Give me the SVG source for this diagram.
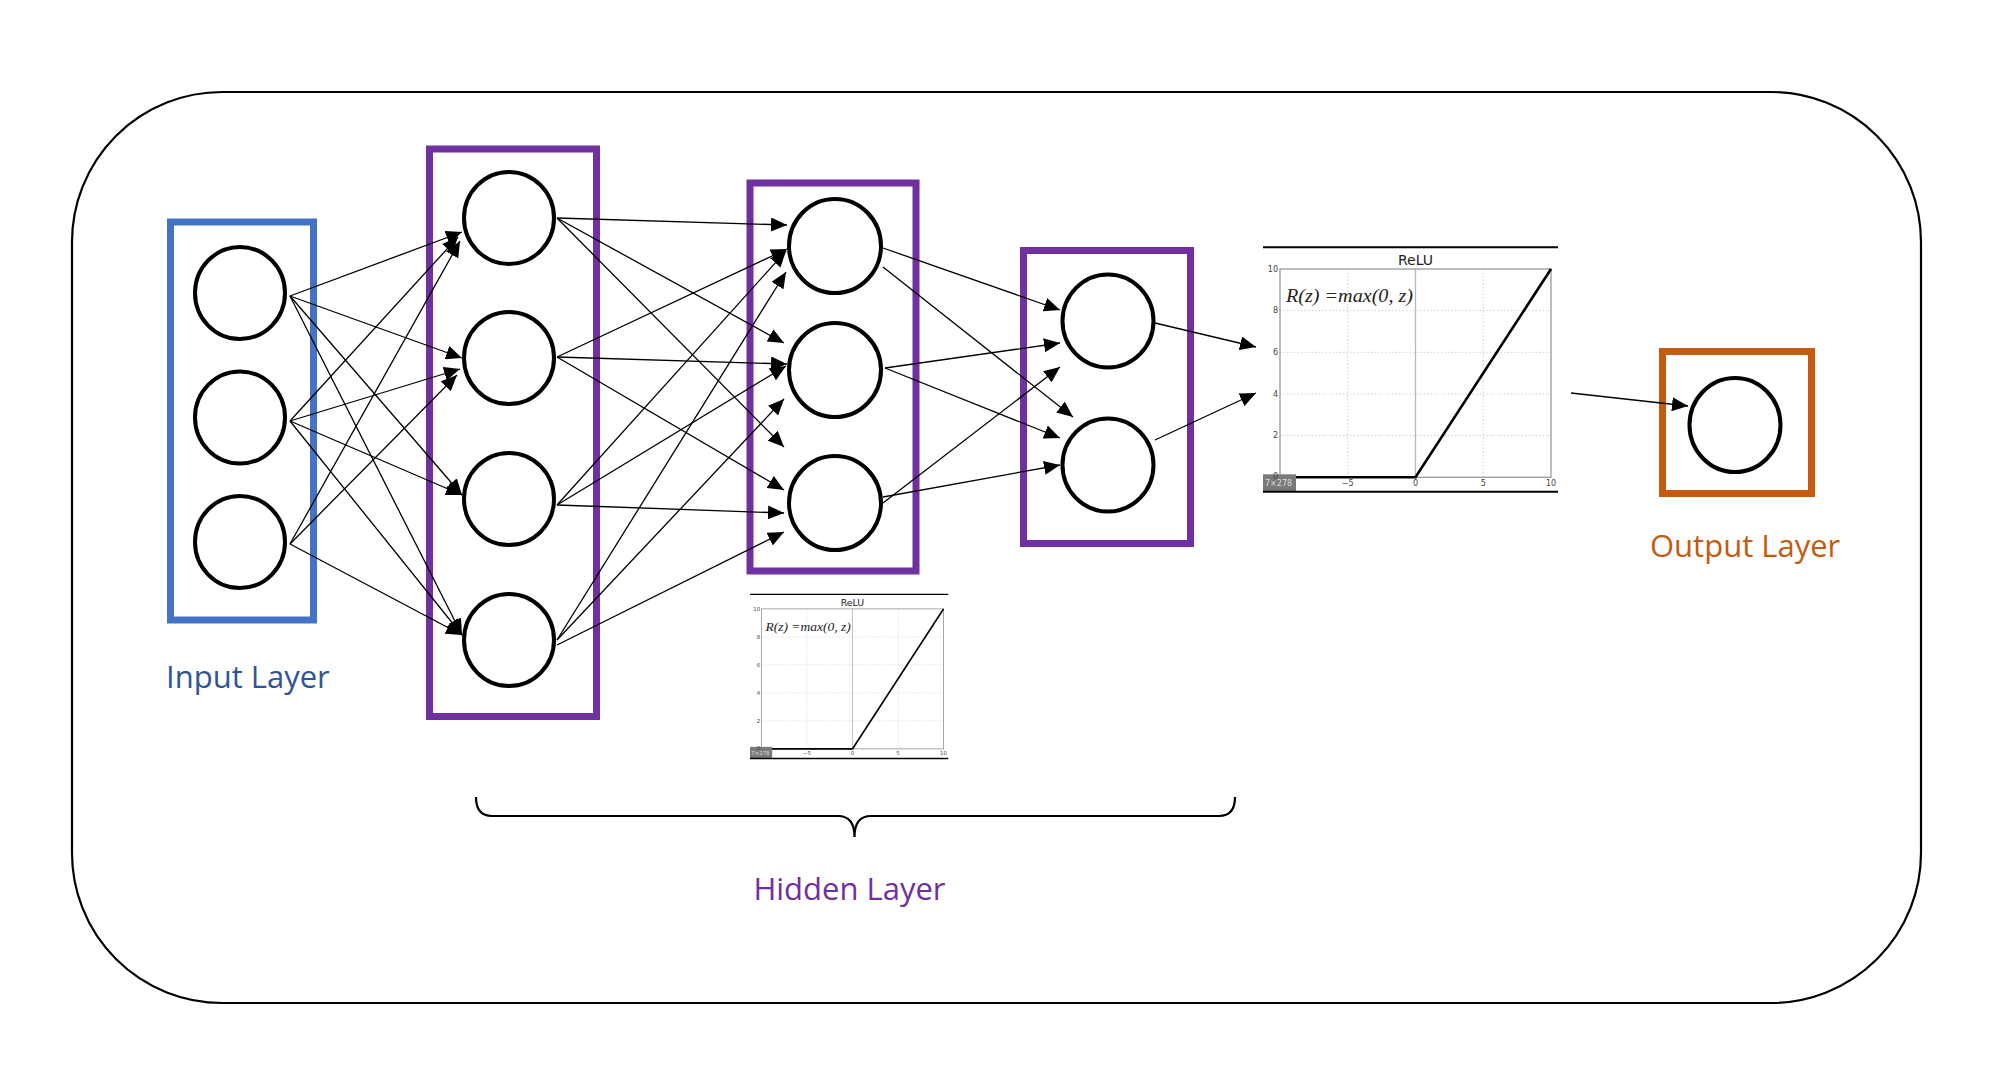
<svg xmlns="http://www.w3.org/2000/svg" width="2000" height="1085" viewBox="0 0 2000 1085">
<defs>
<style>
.node{fill:#fff;stroke:#000;stroke-width:4}
.edge{fill:none;stroke:#000;stroke-width:1.3;marker-end:url(#ah)}
.lbl{font-family:"Open Sans","Noto Sans","Liberation Sans",sans-serif;font-size:31px}
.tick{font-family:"DejaVu Sans","Liberation Sans",sans-serif;font-size:8px;fill:#444}
.grid{stroke:#cfcfcf;stroke-width:1;stroke-dasharray:1.5 2}
</style>
<marker id="ah" markerUnits="userSpaceOnUse" markerWidth="16" markerHeight="14" refX="16" refY="7" orient="auto">
<path d="M0,0 L16,7 L0,14 Z" fill="#000"/>
</marker>
</defs>
<rect width="2000" height="1085" fill="#fff"/>
<rect id="frame" x="72" y="92" width="1849" height="911" rx="150" ry="150" fill="none" stroke="#000" stroke-width="2.2"/>

<g id="layer-boxes" fill="none" stroke-width="7">
<rect id="input-box" x="170.5" y="222" width="143" height="398" stroke="#4472C4"/>
<rect id="hidden1-box" x="429.5" y="149" width="167" height="567.5" stroke="#7030A0"/>
<rect id="hidden2-box" x="750" y="183" width="166" height="388" stroke="#7030A0"/>
<rect id="hidden3-box" x="1023.5" y="250.5" width="167" height="293" stroke="#7030A0"/>
<rect id="output-box" x="1662.5" y="351.5" width="149" height="142" stroke="#C55A11"/>
</g>

<g id="connectors">
<line class="edge" x1="290" y1="296" x2="462" y2="232"/>
<line class="edge" x1="290" y1="296" x2="462" y2="358"/>
<line class="edge" x1="290" y1="296" x2="462" y2="495"/>
<line class="edge" x1="290" y1="296" x2="462" y2="635"/>
<line class="edge" x1="290" y1="421" x2="458" y2="237"/>
<line class="edge" x1="290" y1="421" x2="460" y2="369"/>
<line class="edge" x1="290" y1="421" x2="462" y2="495"/>
<line class="edge" x1="290" y1="421" x2="462" y2="635"/>
<line class="edge" x1="290" y1="544" x2="460" y2="241"/>
<line class="edge" x1="290" y1="544" x2="457" y2="375"/>
<line class="edge" x1="290" y1="544" x2="462" y2="635"/>

<line class="edge" x1="557" y1="218" x2="787" y2="225"/>
<line class="edge" x1="557" y1="218" x2="784" y2="343"/>
<line class="edge" x1="557" y1="218" x2="784" y2="447"/>
<line class="edge" x1="557" y1="357" x2="787" y2="249"/>
<line class="edge" x1="557" y1="357" x2="787" y2="364"/>
<line class="edge" x1="557" y1="357" x2="784" y2="490"/>
<line class="edge" x1="557" y1="505" x2="786" y2="251"/>
<line class="edge" x1="557" y1="505" x2="786" y2="366"/>
<line class="edge" x1="557" y1="505" x2="784" y2="513"/>
<line class="edge" x1="557" y1="640" x2="786" y2="272"/>
<line class="edge" x1="557" y1="640" x2="784" y2="399"/>
<line class="edge" x1="557" y1="645" x2="784" y2="532"/>

<line class="edge" x1="883" y1="248" x2="1060" y2="310"/>
<line class="edge" x1="883" y1="267" x2="1073" y2="417"/>
<line class="edge" x1="885" y1="368" x2="1060" y2="343"/>
<line class="edge" x1="885" y1="368" x2="1060" y2="438"/>
<line class="edge" x1="883" y1="503" x2="1060" y2="367"/>
<line class="edge" x1="883" y1="497" x2="1060" y2="465"/>

<line class="edge" x1="1155" y1="323" x2="1256" y2="347"/>
<line class="edge" x1="1155" y1="440" x2="1256" y2="393"/>

<line class="edge" x1="1571" y1="393" x2="1688" y2="406"/>
</g>

<g id="input-nodes">
<ellipse id="in1" class="node" cx="240" cy="293" rx="45" ry="46"/>
<ellipse id="in2" class="node" cx="240" cy="417.5" rx="45" ry="46"/>
<ellipse id="in3" class="node" cx="240" cy="542" rx="45" ry="46"/>
</g>
<g id="hidden1-nodes">
<ellipse id="h1n1" class="node" cx="509" cy="218" rx="45" ry="46"/>
<ellipse id="h1n2" class="node" cx="509" cy="358" rx="45" ry="46"/>
<ellipse id="h1n3" class="node" cx="509" cy="499" rx="45" ry="46"/>
<ellipse id="h1n4" class="node" cx="509" cy="640" rx="45" ry="46"/>
</g>
<g id="hidden2-nodes">
<ellipse id="h2n1" class="node" cx="835" cy="246" rx="46" ry="47"/>
<ellipse id="h2n2" class="node" cx="835" cy="370" rx="46" ry="47"/>
<ellipse id="h2n3" class="node" cx="835" cy="503" rx="46" ry="47"/>
</g>
<g id="hidden3-nodes">
<ellipse id="h3n1" class="node" cx="1108" cy="321" rx="45.5" ry="46.5"/>
<ellipse id="h3n2" class="node" cx="1108" cy="465" rx="45.5" ry="46.5"/>
</g>
<g id="output-node">
<ellipse id="out1" class="node" cx="1735" cy="425" rx="45.5" ry="47"/>
</g>

<g id="relu-large" transform="translate(1263,247.3)">
<line x1="0" y1="0" x2="295" y2="0" stroke="#000" stroke-width="2"/>
<text x="152.5" y="18" text-anchor="middle" font-family="DejaVu Sans,Liberation Sans,sans-serif" font-size="14" fill="#222">ReLU</text>
<line class="grid" x1="84.75" y1="21.7" x2="84.75" y2="230"/>
<line class="grid" x1="220.25" y1="21.7" x2="220.25" y2="230"/>
<line class="grid" x1="17" y1="63.4" x2="288" y2="63.4"/>
<line class="grid" x1="17" y1="105" x2="288" y2="105"/>
<line class="grid" x1="17" y1="146.7" x2="288" y2="146.7"/>
<line class="grid" x1="17" y1="188.3" x2="288" y2="188.3"/>
<line x1="152.5" y1="21.7" x2="152.5" y2="230" stroke="#b8b8b8" stroke-width="1.3"/>
<rect x="17" y="21.7" width="271" height="208.3" fill="none" stroke="#9a9a9a" stroke-width="1.3"/>
<text class="tick" x="15" y="24.5" text-anchor="end">10</text>
<text class="tick" x="15" y="66" text-anchor="end">8</text>
<text class="tick" x="15" y="108" text-anchor="end">6</text>
<text class="tick" x="15" y="149.5" text-anchor="end">4</text>
<text class="tick" x="15" y="191" text-anchor="end">2</text>
<text class="tick" x="84.75" y="239" text-anchor="middle">−5</text>
<text class="tick" x="152.5" y="239" text-anchor="middle">0</text>
<text class="tick" x="220.25" y="239" text-anchor="middle">5</text>
<text class="tick" x="288" y="239" text-anchor="middle">10</text>
<text x="23" y="55" font-family="Liberation Serif,serif" font-style="italic" font-size="19" fill="#222" textLength="127" lengthAdjust="spacingAndGlyphs">R(z) =max(0,  z)</text>
<path d="M17,230 L152.5,230 L288,21.7" fill="none" stroke="#000" stroke-width="2.6"/>
<rect x="0" y="227" width="33" height="17" fill="#7a7a7a"/>
<text x="2" y="239" font-family="DejaVu Sans,sans-serif" font-size="8" fill="#ddd">7×278</text>
<text class="tick" x="15" y="232" text-anchor="end" fill="#222">0</text>
<line x1="0" y1="244.4" x2="295" y2="244.4" stroke="#000" stroke-width="2"/>
</g>

<g id="relu-small" transform="translate(750,594.3) scale(0.672)">
<line x1="0" y1="0" x2="295" y2="0" stroke="#000" stroke-width="2"/>
<text x="152.5" y="18" text-anchor="middle" font-family="DejaVu Sans,Liberation Sans,sans-serif" font-size="14" fill="#222">ReLU</text>
<line class="grid" x1="84.75" y1="21.7" x2="84.75" y2="230"/>
<line class="grid" x1="220.25" y1="21.7" x2="220.25" y2="230"/>
<line class="grid" x1="17" y1="63.4" x2="288" y2="63.4"/>
<line class="grid" x1="17" y1="105" x2="288" y2="105"/>
<line class="grid" x1="17" y1="146.7" x2="288" y2="146.7"/>
<line class="grid" x1="17" y1="188.3" x2="288" y2="188.3"/>
<line x1="152.5" y1="21.7" x2="152.5" y2="230" stroke="#b8b8b8" stroke-width="1.3"/>
<rect x="17" y="21.7" width="271" height="208.3" fill="none" stroke="#9a9a9a" stroke-width="1.3"/>
<text class="tick" x="15" y="24.5" text-anchor="end">10</text>
<text class="tick" x="15" y="66" text-anchor="end">8</text>
<text class="tick" x="15" y="108" text-anchor="end">6</text>
<text class="tick" x="15" y="149.5" text-anchor="end">4</text>
<text class="tick" x="15" y="191" text-anchor="end">2</text>
<text class="tick" x="84.75" y="239" text-anchor="middle">−5</text>
<text class="tick" x="152.5" y="239" text-anchor="middle">0</text>
<text class="tick" x="220.25" y="239" text-anchor="middle">5</text>
<text class="tick" x="288" y="239" text-anchor="middle">10</text>
<text x="23" y="55" font-family="Liberation Serif,serif" font-style="italic" font-size="19" fill="#222" textLength="127" lengthAdjust="spacingAndGlyphs">R(z) =max(0,  z)</text>
<path d="M17,230 L152.5,230 L288,21.7" fill="none" stroke="#000" stroke-width="2.6"/>
<rect x="0" y="227" width="33" height="17" fill="#7a7a7a"/>
<text x="2" y="239" font-family="DejaVu Sans,sans-serif" font-size="8" fill="#ddd">7×278</text>
<text class="tick" x="15" y="232" text-anchor="end" fill="#222">0</text>
<line x1="0" y1="244.4" x2="295" y2="244.4" stroke="#000" stroke-width="2"/>
</g>

<path id="hidden-brace" d="M476,797 Q476,816 492,816 L838,816 Q854.5,816 854.5,837 Q854.5,816 871,816 L1219,816 Q1235,816 1235,797" fill="none" stroke="#000" stroke-width="2.2"/>

<g id="labels">
<text class="lbl" x="166" y="688" fill="#2F5597">Input Layer</text>
<text class="lbl" x="849.5" y="900" text-anchor="middle" fill="#7030A0">Hidden Layer</text>
<text class="lbl" x="1650" y="557" fill="#C55A11">Output Layer</text>
</g>
</svg>
